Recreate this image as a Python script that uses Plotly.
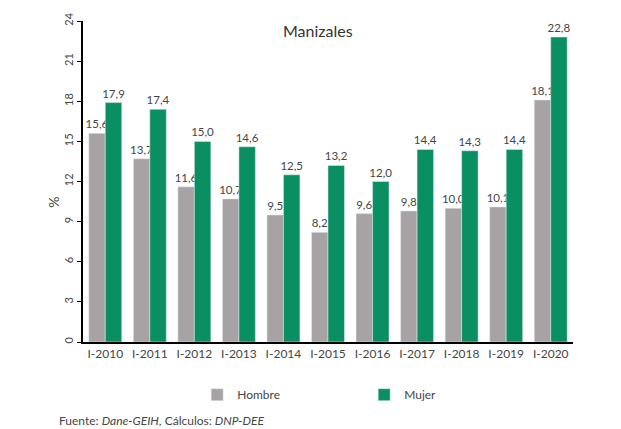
import plotly.graph_objects as go

periodos = ["I-2010", "I-2011", "I-2012", "I-2013", "I-2014", "I-2015",
            "I-2016", "I-2017", "I-2018", "I-2019", "I-2020"]
hombre = [15.6, 13.7, 11.6, 10.7, 9.5, 8.2, 9.6, 9.8, 10.0, 10.1, 18.1]
mujer = [17.9, 17.4, 15.0, 14.6, 12.5, 13.2, 12.0, 14.4, 14.3, 14.4, 22.8]

gris = "#A7A3A5"
verde = "#0A8F62"
texto = "#454545"
fuente = "Lato, 'Open Sans', sans-serif"

fig = go.Figure()
fig.add_trace(go.Bar(x=periodos, y=hombre, name="Hombre", marker_color=gris,
                     texttemplate="%{y:.1f}", textposition="outside",
                     cliponaxis=False,
                     textfont=dict(size=11.5, color=texto)))
fig.add_trace(go.Bar(x=periodos, y=mujer, name="Mujer", marker_color=verde,
                     texttemplate="%{y:.1f}", textposition="outside",
                     cliponaxis=False,
                     textfont=dict(size=11.5, color=texto)))

fig.update_layout(
    width=621, height=429,
    margin=dict(l=83, r=48, t=15, b=87),
    paper_bgcolor="white", plot_bgcolor="white",
    separators=",.",
    barmode="group", bargap=0.26, bargroupgap=0.0,
    font=dict(family=fuente, color=texto, size=11),
    showlegend=True,
    legend=dict(orientation="h", x=0.233, xanchor="left", y=-0.119, yanchor="top",
                entrywidth=122, entrywidthmode="pixels",
                font=dict(size=12, color=texto), itemwidth=30,
                traceorder="normal"),
    uniformtext=dict(minsize=9, mode="show"),
)
fig.update_xaxes(showline=True, linecolor="black", linewidth=1.5,
                 ticks="", showgrid=False,
                 tickfont=dict(size=12, color=texto))
fig.update_yaxes(range=[0, 24], dtick=3, tickangle=-90,
                 showline=True, linecolor="black", linewidth=1.5,
                 ticks="outside", ticklen=4, tickcolor="black",
                 showgrid=False, zeroline=False,
                 tickfont=dict(size=11, color=texto))

# axis label for the percentage scale
fig.add_annotation(text="%", xref="paper", yref="paper",
                   x=-0.061, y=(342 - 200) / 327, xanchor="center", yanchor="middle",
                   textangle=-90, showarrow=False,
                   font=dict(size=14, color=texto))
fig.add_annotation(text="Manizales", xref="paper", yref="paper",
                   x=0.48, y=0.97, xanchor="center", yanchor="middle",
                   showarrow=False,
                   font=dict(size=16, color="#333333"))
fig.add_annotation(text="Fuente: <i>Dane-GEIH</i>, Cálculos: <i>DNP-DEE</i>",
                   xref="paper", yref="paper", x=-0.053, xanchor="left",
                   y=-0.245, yanchor="middle", showarrow=False,
                   font=dict(size=12, color=texto))

fig.write_html("out.html")
